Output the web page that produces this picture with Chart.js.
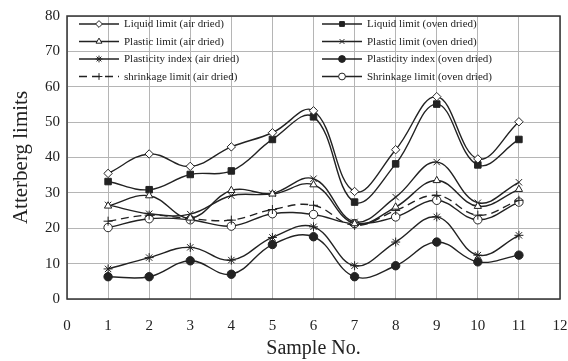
<!DOCTYPE html>
<html>
<head>
<meta charset="utf-8">
<script src="https://cdn.jsdelivr.net/npm/chart.js@4.4.0/dist/chart.umd.min.js"></script>
<style>
html,body{margin:0;padding:0;background:#fff;}
#wrap{width:568px;height:361px;position:relative;}
</style>
</head>
<body>
<div id="wrap"><canvas id="c" width="568" height="361"></canvas></div>
<script>
const samples = [1, 2, 3, 4, 5, 6, 7, 8, 9, 10, 11];
const xTicks = [0, 1, 2, 3, 4, 5, 6, 7, 8, 9, 10, 11, 12];
const yTicks = [0, 10, 20, 30, 40, 50, 60, 70, 80];

const liquidAir   = [35.5, 41.0, 37.5, 43.0, 47.0, 53.2, 30.4, 42.2, 57.2, 39.6, 50.1];
const liquidOven  = [33.2, 30.9, 35.2, 36.2, 45.1, 51.5, 27.4, 38.2, 55.1, 37.9, 45.1];
const plasticAir  = [26.3, 29.2, 22.9, 30.7, 29.7, 32.3, 21.3, 26.0, 33.5, 26.2, 31.0];
const plasticOven = [26.6, 24.1, 24.0, 29.2, 29.8, 34.0, 21.8, 28.8, 38.7, 27.2, 33.0];
const piAir       = [8.5, 11.7, 14.6, 11.0, 17.4, 20.4, 9.4, 16.1, 23.2, 12.4, 18.0];
const piOven      = [6.3, 6.3, 10.8, 7.0, 15.4, 17.6, 6.3, 9.4, 16.1, 10.5, 12.4];
const shrinkAir   = [22.0, 23.7, 22.7, 22.3, 25.3, 26.5, 20.8, 25.0, 29.3, 23.7, 27.9];
const shrinkOven  = [20.2, 22.7, 22.4, 20.6, 24.1, 23.9, 21.3, 23.2, 27.9, 22.4, 27.4];

const labelsAir  = ['Liquid limit (air dried)', 'Plastic limit (air dried)', 'Plasticity index (air dried)', 'shrinkage limit (air dried)'];
const labelsOven = ['Liquid limit (oven dried)', 'Plastic limit (oven dried)', 'Plasticity index (oven dried)', 'Shrinkage limit (oven dried)'];

const INK = '#222';
const SERIF = '"Liberation Serif", "DejaVu Serif", serif';

function pts(arr){ return arr.map((v,i)=>({x: samples[i], y: v})); }
function ds(label, arr, style, fill, extra){
  return Object.assign({
    label: label, data: pts(arr), column: 0,
    borderColor: INK, borderWidth: 1.4,
    pointStyle: style, pointRadius: 4.2,
    pointBackgroundColor: fill ? INK : '#fff',
    pointBorderColor: INK, pointBorderWidth: 1,
    tension: 0.4, fill: false
  }, extra || {});
}

const datasets = [
  ds(labelsAir[0], liquidAir, 'rectRot', false, {column:0,row:0}),
  ds(labelsAir[1], plasticAir, 'triangle', false, {column:0,row:1}),
  ds(labelsAir[2], piAir, 'star', false, {column:0,row:2, pointRadius:4.5}),
  ds(labelsAir[3], shrinkAir, 'cross', false, {column:0,row:3, borderDash:[8,5], pointRadius:4.5}),
  ds(labelsOven[0], liquidOven, 'rect', true, {column:1,row:0, pointRadius:4.6}),
  ds(labelsOven[1], plasticOven, 'crossRot', false, {column:1,row:1, pointRadius:4.5}),
  ds(labelsOven[2], piOven, 'circle', true, {column:1,row:2}),
  ds(labelsOven[3], shrinkOven, 'circle', false, {column:1,row:3})
];

const insideLegend = {
  id: 'insideLegend',
  afterDatasetsDraw(chart){
    const ctx = chart.ctx;
    const colX = [79, 322];
    const rowY = [24, 41.5, 59, 76.5];
    ctx.save();
    chart.data.datasets.forEach(d => {
      const x0 = colX[d.column], y = rowY[d.row];
      ctx.strokeStyle = INK; ctx.lineWidth = 1.4;
      ctx.setLineDash(d.borderDash || []);
      ctx.beginPath(); ctx.moveTo(x0, y); ctx.lineTo(x0 + 40, y); ctx.stroke();
      ctx.setLineDash([]);
      ctx.fillStyle = d.pointBackgroundColor; ctx.strokeStyle = INK; ctx.lineWidth = 1;
      Chart.helpers.drawPoint(ctx, {pointStyle: d.pointStyle, radius: 3.4, borderWidth: 1, rotation: 0}, x0 + 20, y);
      ctx.fillStyle = INK;
      ctx.font = '11px ' + SERIF;
      ctx.textBaseline = 'middle';
      ctx.fillText(d.label, x0 + 45, y + 0.5);
    });
    ctx.restore();
  }
};

const frame = {
  id: 'frame',
  afterDraw(chart){
    const a = chart.chartArea, ctx = chart.ctx;
    ctx.save();
    ctx.strokeStyle = '#333'; ctx.lineWidth = 1.5;
    ctx.strokeRect(a.left, a.top, a.right - a.left, a.bottom - a.top);
    ctx.restore();
  }
};

new Chart(document.getElementById('c'), {
  type: 'line',
  data: { datasets: datasets },
  plugins: [insideLegend, frame],
  options: {
    responsive: false,
    animation: false,
    layout: { padding: { top: 15, right: 8, left: 0, bottom: 0 } },
    plugins: { legend: { display: false }, tooltip: { enabled: false } },
    scales: {
      x: {
        type: 'linear', min: 0, max: 12,
        afterBuildTicks(s){ s.ticks = xTicks.map(v => ({value: v})); },
        afterFit(s){ s.height = 62; s.paddingRight = 0; s.paddingLeft = 0; },
        grid: { color: '#b5b5b5', lineWidth: 1, drawTicks: false },
        border: { display: false },
        ticks: { color: INK, font: { family: SERIF, size: 15 }, padding: 18, maxRotation: 0 },
        title: { display: true, text: 'Sample No.', color: INK, font: { family: SERIF, size: 20 }, padding: { top: -3, bottom: 0 } }
      },
      y: {
        min: 0, max: 80,
        afterBuildTicks(s){ s.ticks = yTicks.map(v => ({value: v})); },
        afterFit(s){ s.width = 67; },
        grid: { color: '#b5b5b5', lineWidth: 1, drawTicks: false },
        border: { display: false },
        ticks: { color: INK, font: { family: SERIF, size: 15 }, padding: 7 },
        title: { display: true, text: 'Atterberg limits', color: INK, font: { family: SERIF, size: 21 }, padding: { top: 9, bottom: 0 } }
      }
    }
  }
});
</script>
</body>
</html>
